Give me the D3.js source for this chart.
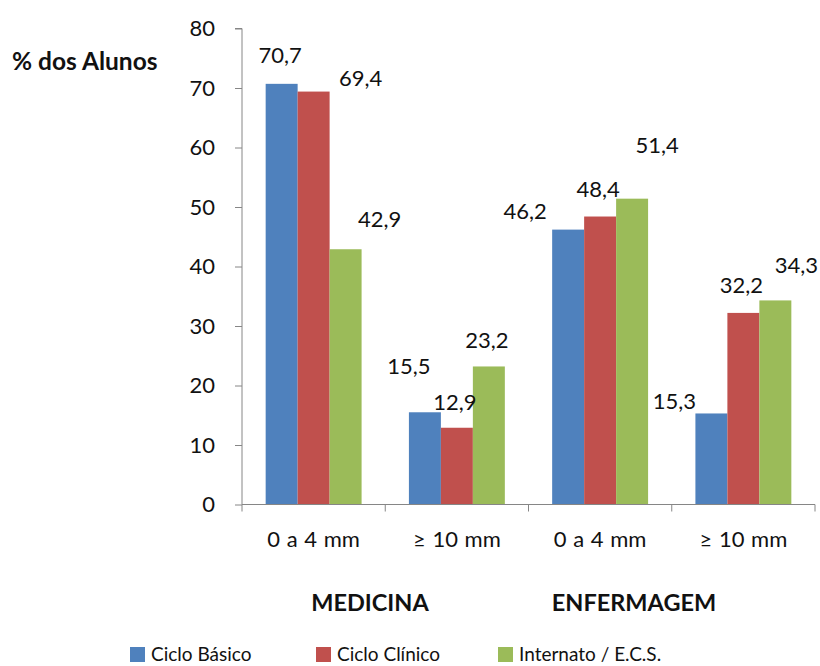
<!DOCTYPE html>
<html>
<head>
<meta charset="utf-8">
<script src="https://cdn.jsdelivr.net/npm/d3@7"></script>
<style>
  html, body { margin: 0; padding: 0; background: #fff; }
  svg text { font-family: Lato, "Open Sans", sans-serif; fill: #111; }
</style>
</head>
<body>
<svg id="chart" width="820" height="666"></svg>
<script>
// Categories (thickness ranges) within each course
const categories = ["0 a 4 mm", "≥ 10 mm", "0 a 4 mm", "≥ 10 mm"];
const courses = ["MEDICINA", "ENFERMAGEM"];
const seriesNames = ["Ciclo Básico", "Ciclo Clínico", "Internato / E.C.S."];
// Percent of students per series, one entry per category
const cicloBasico = [70.7, 15.5, 46.2, 15.3];
const cicloClinico = [69.4, 12.9, 48.4, 32.2];
const internato = [42.9, 23.2, 51.4, 34.3];
const yTicks = [0, 10, 20, 30, 40, 50, 60, 70, 80];

const colors = ["#4F81BD", "#C0504D", "#9BBB59"];
// Hand-placed value label offsets [dx, dy] relative to each bar's top centre
const labelOffsets = [
  [[-1.5, -21], [-16, -38], [-43, -11], [-37, -4]],
  [[47, -6], [-2, -18], [-2, -20], [-2, -20]],
  [[34, -22], [-2, -18.5], [25, -46], [21, -27]]
];

const series = [cicloBasico, cicloClinico, internato];
const svg = d3.select("#chart");
const plotLeft = 242, plotRight = 815, plotTop = 28.5, plotBottom = 504.5;
const fmt = v => String(v.toFixed(1)).replace(".", ",");

const x0 = d3.scaleBand().domain(d3.range(categories.length)).range([plotLeft, plotRight]);
const x1 = d3.scaleBand().domain(d3.range(series.length))
  .range([0, x0.bandwidth()]).paddingOuter(0.74).paddingInner(0);
const y = d3.scaleLinear().domain([0, 80]).range([plotBottom, plotTop]);

// Bars
series.forEach((vals, s) => {
  svg.append("g").selectAll("rect").data(vals).join("rect")
    .attr("x", (d, i) => x0(i) + x1(s))
    .attr("y", d => y(d))
    .attr("width", x1.bandwidth())
    .attr("height", d => y(0) - y(d))
    .attr("fill", colors[s]);
});

// Y axis
const yAxis = svg.append("g").attr("transform", `translate(${plotLeft},0)`)
  .call(d3.axisLeft(y).tickValues(yTicks).tickSize(7).tickPadding(20));
yAxis.select(".domain").attr("stroke", "#868686").attr("d", `M-7,${plotTop}H0V${plotBottom}`);
yAxis.selectAll(".tick line").attr("stroke", "#868686");
yAxis.selectAll("text").style("font-size", "22px").attr("fill", "#111");

// X axis with category boundary ticks
const xg = svg.append("g");
xg.append("line").attr("x1", plotLeft).attr("x2", plotRight).attr("y1", plotBottom).attr("y2", plotBottom)
  .attr("stroke", "#868686");
const bounds = d3.range(categories.length + 1).map(i => plotLeft + i * x0.bandwidth());
xg.selectAll("line.b").data(bounds).join("line").attr("class", "b")
  .attr("x1", d => d).attr("x2", d => d).attr("y1", plotBottom).attr("y2", plotBottom + 7)
  .attr("stroke", "#868686");
xg.selectAll("text").data(categories).join("text")
  .attr("x", (d, i) => x0(i) + x0.bandwidth() / 2)
  .attr("y", 547).attr("text-anchor", "middle").style("font-size", "22px")
  .style("word-spacing", "1px")
  .text(d => d);

// Value labels
series.forEach((vals, s) => {
  svg.append("g").selectAll("text").data(vals).join("text")
    .attr("x", (d, i) => x0(i) + x1(s) + x1.bandwidth() / 2 + labelOffsets[s][i][0])
    .attr("y", (d, i) => y(d) + labelOffsets[s][i][1])
    .attr("text-anchor", "middle").style("font-size", "22px")
    .text(d => fmt(d));
});

// Course names under each pair of categories
svg.selectAll("text.course").data(courses).join("text").attr("class", "course")
  .attr("x", (d, i) => [370, 634][i]).attr("y", 611)
  .attr("text-anchor", "middle").style("font-size", "23.5px").style("font-weight", "bold")
  .text(d => d);

// Y title
svg.append("text").attr("x", 12).attr("y", 70)
  .style("font-size", "24.5px").style("font-weight", "bold").text("% dos Alunos");

// Legend
const legendX = [130, 316, 498];
const lg = svg.append("g");
seriesNames.forEach((name, s) => {
  lg.append("rect").attr("x", legendX[s]).attr("y", 647).attr("width", 15).attr("height", 15)
    .attr("fill", colors[s]);
  lg.append("text").attr("x", legendX[s] + 21).attr("y", 661)
    .style("font-size", "19px").text(name);
});
</script>
</body>
</html>
